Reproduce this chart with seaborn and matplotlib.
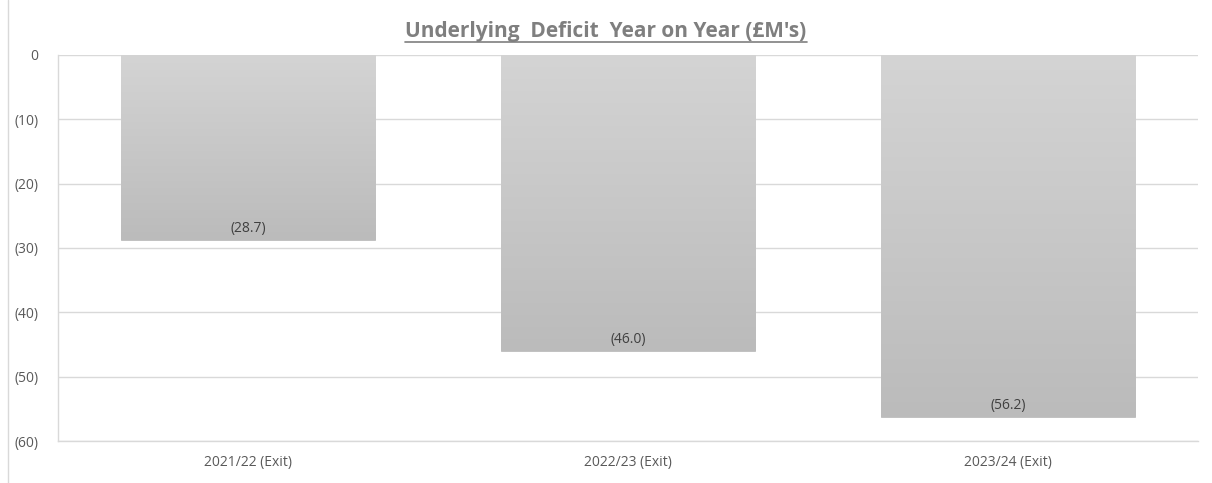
import numpy as np
import pandas as pd
import matplotlib
matplotlib.use("Agg")
import matplotlib.pyplot as plt
import seaborn as sns
from matplotlib.ticker import FuncFormatter
from matplotlib.colors import LinearSegmentedColormap

categories = ["2021/22 (Exit)", "2022/23 (Exit)", "2023/24 (Exit)"]
values = [-28.7, -46.0, -56.2]
title = "Underlying  Deficit  Year on Year (£M's)"

sns.set_theme(style="white")
plt.rcParams['font.family'] = ['Open Sans', 'DejaVu Sans']

df = pd.DataFrame({"cat": categories, "val": values})

fig = plt.figure(figsize=(12.12, 4.83), dpi=100)
ax = fig.add_axes([58/1212, 1-441/483, (1198-58)/1212, (441-55)/483])

sns.barplot(data=df, x="cat", y="val", ax=ax, color="#c4c4c4", width=0.67,
            edgecolor="#bdbdbd", linewidth=0.6, zorder=3)

ax.set_ylim(-60, 0)
ax.set_yticks(np.arange(-60, 1, 10))
ax.yaxis.set_major_formatter(FuncFormatter(lambda v, p: "0" if v == 0 else f"({abs(v):.0f})"))
ax.grid(axis="y", color="#d9d9d9", linewidth=1, zorder=0)
ax.set_axisbelow(True)
for s in ["top", "right"]:
    ax.spines[s].set_visible(False)
for s in ["left", "bottom"]:
    ax.spines[s].set_color("#d9d9d9")
    ax.spines[s].set_linewidth(1)
ax.tick_params(axis="both", length=0, colors="#595959", labelsize=10)
ax.tick_params(axis="y", pad=14)
ax.tick_params(axis="x", pad=10)
ax.set_xlabel("")
ax.set_ylabel("")

# gradient fill on bars
cmap = LinearSegmentedColormap.from_list("g", ["#d4d4d4", "#bbbbbb"])
grad = np.linspace(0, 1, 256).reshape(-1, 1)
for bar in ax.patches:
    x0 = bar.get_x()
    w = bar.get_width()
    h = bar.get_height()
    im = ax.imshow(grad, cmap=cmap, aspect="auto", extent=[x0, x0 + w, h, 0],
                   zorder=3.5, interpolation="bicubic")
    im.set_clip_path(bar)
ax.set_xlim(-0.5, 2.5)
ax.set_ylim(-60, 0)

for bar, v in zip(ax.patches, values):
    ax.text(bar.get_x() + bar.get_width() / 2, v + 0.6, f"({abs(v):.1f})",
            ha="center", va="bottom", fontsize=10, color="#404040", zorder=5)

fig.text(0.5, 1 - 32/483, title, ha="center", va="center", fontsize=15,
         fontweight="bold", color="#7f7f7f")
# underline
t = fig.texts[-1]
fig.canvas.draw()
bb = t.get_window_extent().transformed(fig.transFigure.inverted())
fig.add_artist(plt.Line2D([bb.x0, bb.x1], [bb.y0 + 0.002, bb.y0 + 0.002],
                          transform=fig.transFigure, color="#7f7f7f", linewidth=1.2))
# chart frame on left
fig.add_artist(plt.Line2D([8/1212, 8/1212], [0, 1], transform=fig.transFigure,
                          color="#d9d9d9", linewidth=1))

fig.savefig("out.png", dpi=100, facecolor="white")
